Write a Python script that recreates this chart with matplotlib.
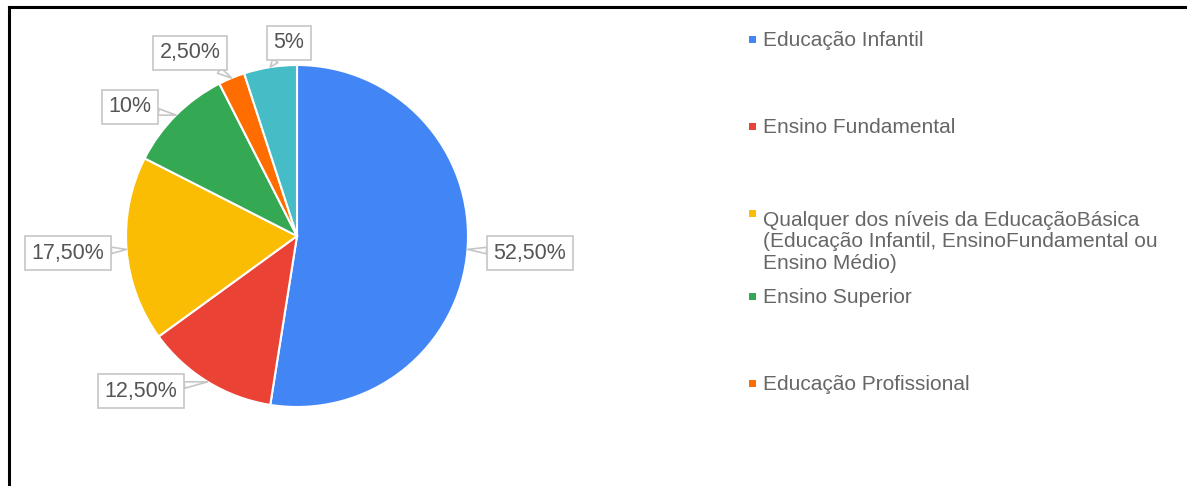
import numpy as np
import matplotlib
matplotlib.use('Agg')
import matplotlib.pyplot as plt
from matplotlib.patches import Rectangle
from matplotlib.lines import Line2D

plt.rcParams['font.family'] = ['Liberation Sans', 'DejaVu Sans']

# shares per level of education
categories = ["Educação Infantil",
              "Ensino Fundamental",
              "Qualquer dos níveis da EducaçãoBásica\n(Educação Infantil, EnsinoFundamental ou\nEnsino Médio)",
              "Ensino Superior",
              "Educação Profissional",
              "Outros"]
shares = [52.5, 12.5, 17.5, 10.0, 2.5, 5.0]
share_labels = ["52,50%", "12,50%", "17,50%", "10%", "2,50%", "5%"]
colors = ["#4285f4", "#ea4335", "#fbbc04", "#34a853", "#ff6d01", "#46bdc6"]

W, H = 1187, 486
fig = plt.figure(figsize=(W / 100, H / 100), dpi=100)
ax = fig.add_axes([0, 0, 1, 1])

def py(y):
    # pixel row (from top) -> axis y
    return H - y

cx, cy, r = 297, py(236), 171
wedges, _ = ax.pie(shares, colors=colors, startangle=90, counterclock=False,
                   center=(cx, cy), radius=r,
                   wedgeprops=dict(edgecolor='white', linewidth=1.5))
ax.set_xlim(0, W)
ax.set_ylim(0, H)
ax.set_aspect('auto')
ax.axis('off')

# callout boxes
label_pos = [(530, 253), (141, 391), (68, 253), (130, 107), (190, 53), (289, 43)]
for w, lab, (lx, ly) in zip(wedges, share_labels, label_pos):
    mid = np.deg2rad((w.theta1 + w.theta2) / 2)
    tip = (cx + r * np.cos(mid), cy + r * np.sin(mid))
    ax.annotate(lab, xy=tip, xytext=(lx, py(ly)), ha='center', va='center',
                fontsize=15.5, color='#555555',
                bbox=dict(boxstyle='square,pad=0.3', fc='white', ec='#c6c6c6', lw=1.2),
                arrowprops=dict(arrowstyle='wedge,tail_width=0.3', fc='white',
                                ec='#c6c6c6', lw=1.2, shrinkA=0, shrinkB=0))

# legend (only the first five entries fit)
line_px = 24.5
legend_baselines = [46.5, 133, 220, 303, 390]
for i, base in enumerate(legend_baselines):
    ax.add_patch(Rectangle((749, py(base - 3)), 7, 7, color=colors[i], lw=0))
    nlines = categories[i].count("\n")
    ax.text(763, py(base + nlines * line_px), categories[i], fontsize=15, color='#666666',
            ha='left', va='baseline', linespacing=1.17)

# frame around the chart (top and left)
fig.add_artist(Line2D([9 / W, 1], [py(7) / H, py(7) / H], color='black', lw=2.2))
fig.add_artist(Line2D([9 / W, 9 / W], [0, py(7) / H], color='black', lw=2.2))

fig.savefig("out.png", dpi=100)
